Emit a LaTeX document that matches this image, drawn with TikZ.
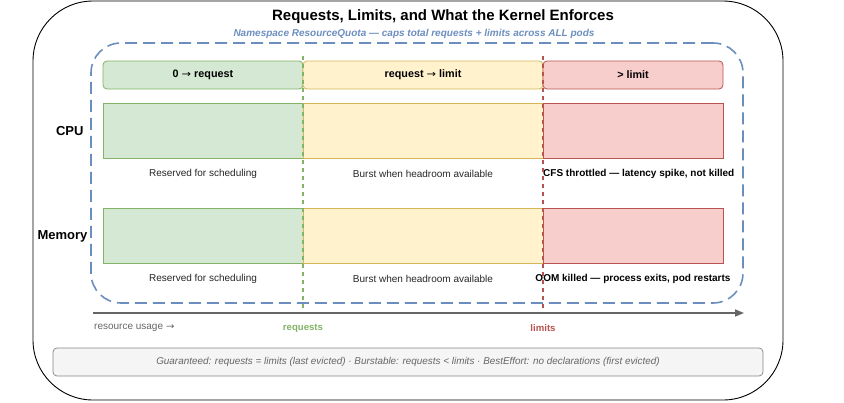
\documentclass[tikz,border=0pt]{standalone}
\usepackage{fontspec}
\setmainfont{Liberation Sans}
\newfontfamily\arrowfont{DejaVu Sans}
\newcommand{\rarr}{{\arrowfont\mdseries\scalebox{1.05}[0.9]{→}}}
\usetikzlibrary{arrows.meta}
\definecolor{gfill}{HTML}{D5E8D4}\definecolor{gline}{HTML}{82B366}
\definecolor{yfill}{HTML}{FFF2CC}\definecolor{yline}{HTML}{D6B656}
\definecolor{rfill}{HTML}{F8CECC}\definecolor{rline}{HTML}{B85450}
\definecolor{bline}{HTML}{6C8EBF}\definecolor{gray6}{HTML}{666666}
\definecolor{boxfill}{HTML}{F5F5F5}
\begin{document}
\begin{tikzpicture}[x=1pt,y=-1pt,
  bar/.style={draw, line width=0.8pt, minimum height=55pt, inner sep=0pt},
  hdr/.style={draw, line width=0.8pt, rounded corners=4pt, minimum height=28pt, inner sep=0pt, font=\fontsize{10.8}{13}\selectfont\bfseries},
  note/.style={font=\fontsize{10}{12}\selectfont, text=black!85},
  bnote/.style={font=\fontsize{10}{12}\selectfont\bfseries},
  rowlbl/.style={font=\fontsize{13}{15}\selectfont\bfseries, anchor=east},
  threshline/.style={line width=1.6pt, dash pattern=on 4pt off 4pt}
]
\useasboundingbox (0,0) rectangle (844,402);
% outer frame
\node[draw, line width=0.9pt, rounded corners=60pt, minimum width=750pt, minimum height=399pt, inner sep=0pt] (frame) at (408,200.5) {};
\node[font=\fontsize{15}{18}\selectfont\bfseries] (title) at (443,16.5) {Requests, Limits, and What the Kernel Enforces};
\node[font=\fontsize{10}{12}\selectfont\bfseries\itshape, text=bline] (quotalbl) at (414,34) {Namespace ResourceQuota — caps total requests + limits across ALL pods};
% quota box
\node[draw=bline, line width=1.6pt, dash pattern=on 12pt off 6pt, rounded corners=30pt, minimum width=652pt, minimum height=260pt, inner sep=0pt] (quota) at (417,173) {};
% headers
\node[hdr, fill=gfill, draw=gline, minimum width=200pt] (h1) at (203,75) {0 \rarr{} request};
\node[hdr, fill=yfill, draw=yline, minimum width=240pt] (h2) at (423,75) {request \rarr{} limit};
\node[hdr, fill=rfill, draw=rline, minimum width=180pt] (h3) at (633,75) {> limit};
% CPU row
\node[bar, fill=gfill, draw=gline, minimum width=200pt] (c1) at (203,130.5) {};
\node[bar, fill=yfill, draw=yline, minimum width=240pt] (c2) at (423,130.5) {};
\node[bar, fill=rfill, draw=rline, minimum width=180pt] (c3) at (633,130.5) {};
\node[rowlbl] (cpu) at (87,131) {CPU};
\node[note] (cn1) at (203,174) {Reserved for scheduling};
\node[note] (cn2) at (423,174) {Burst when headroom available};
\node[bnote, anchor=west, inner sep=0pt] (cn3) at (543,174) {CFS throttled — latency spike, not killed};
% Memory row
\node[bar, fill=gfill, draw=gline, minimum width=200pt] (m1) at (203,235.5) {};
\node[bar, fill=yfill, draw=yline, minimum width=240pt] (m2) at (423,235.5) {};
\node[bar, fill=rfill, draw=rline, minimum width=180pt] (m3) at (633,235.5) {};
\node[rowlbl] (mem) at (91,236) {Memory};
\node[note] (mn1) at (203,279) {Reserved for scheduling};
\node[note] (mn2) at (423,279) {Burst when headroom available};
\node[bnote] (mn3) at (633,279) {OOM killed — process exits, pod restarts};
% threshold markers
\coordinate (rqtop) at (303,56); \coordinate (rqbot) at (303,308);
\coordinate (lmtop) at (543,56); \coordinate (lmbot) at (543,308);
\draw[threshline, draw=gline] (rqtop) -- (rqbot);
\draw[threshline, draw=rline] (lmtop) -- (lmbot);
% axis
\coordinate (ax0) at (93,313); \coordinate (ax1) at (744,313);
\draw[gray6, line width=1.5pt, -{Triangle[length=9pt,width=7pt]}] (ax0) -- (ax1);
\node[font=\fontsize{10}{12}\selectfont, text=gray6, anchor=west, inner sep=0pt] (usage) at (94,328) {resource usage \rarr};
\node[font=\fontsize{9.6}{11}\selectfont\bfseries, text=gline] (rqlbl) at (303,328) {requests};
\node[font=\fontsize{9.6}{11}\selectfont\bfseries, text=rline] (lmlbl) at (543,328) {limits};
% legend box
\node[draw=gray6!80, fill=boxfill, line width=0.7pt, rounded corners=4pt, minimum width=710pt, minimum height=28pt, inner sep=0pt, font=\fontsize{9.9}{12}\selectfont\itshape, text=gray6] (legend) at (408,362) {Guaranteed: requests = limits (last evicted) · Burstable: requests < limits · BestEffort: no declarations (first evicted)};
\end{tikzpicture}
\end{document}
